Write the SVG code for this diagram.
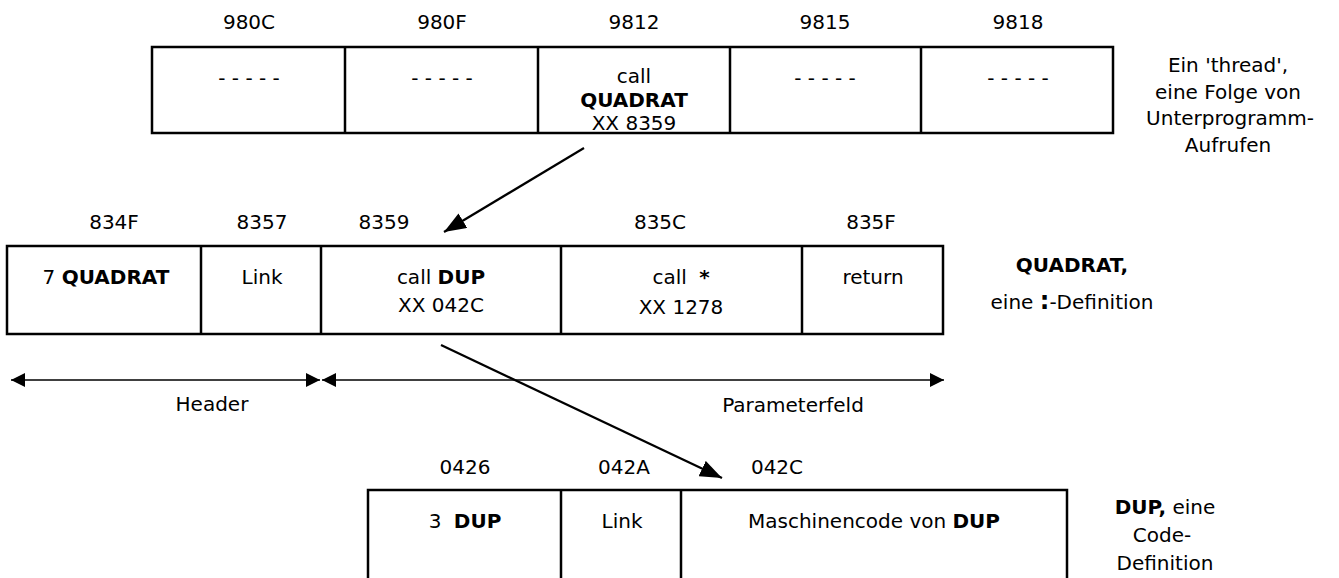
<svg xmlns="http://www.w3.org/2000/svg" width="1339" height="578" viewBox="0 0 1339 578">
<defs>
<style>
text{font-family:"DejaVu Sans",Verdana,"Liberation Sans",sans-serif;font-size:20px;fill:#000;text-anchor:middle}
.b{font-weight:bold}
.box{fill:#fff;stroke:#000;stroke-width:2.5}
.div{stroke:#000;stroke-width:2.5}
.arr{stroke:#000;stroke-width:2.2;fill:none}
.dim{stroke:#000;stroke-width:1.6;fill:none}
</style>
<marker id="ah" viewBox="0 0 22 17" refX="22" refY="8.5" markerWidth="22" markerHeight="17" markerUnits="userSpaceOnUse" orient="auto">
<path d="M0,0 L22,8.5 L0,17 z" fill="#000"/>
</marker>
<marker id="dh" viewBox="0 0 14 14" refX="14" refY="7" markerWidth="14" markerHeight="14" markerUnits="userSpaceOnUse" orient="auto-start-reverse">
<path d="M0,0 L14,7 L0,14 z" fill="#000"/>
</marker>
</defs>
<rect width="1339" height="578" fill="#fff"/>

<g id="thread">
<rect class="box" x="152" y="47" width="961" height="86"/>
<line class="div" x1="345" y1="47" x2="345" y2="133"/>
<line class="div" x1="538" y1="47" x2="538" y2="133"/>
<line class="div" x1="730" y1="47" x2="730" y2="133"/>
<line class="div" x1="921" y1="47" x2="921" y2="133"/>
<text x="249" y="29">980C</text>
<text x="442" y="29">980F</text>
<text x="634" y="29">9812</text>
<text x="825" y="29">9815</text>
<text x="1018" y="29">9818</text>
<text x="249" y="85">- - - - -</text>
<text x="442" y="85">- - - - -</text>
<text x="634" y="83">call</text>
<text x="634" y="107" class="b">QUADRAT</text>
<text x="634" y="130">XX 8359</text>
<text x="825" y="85">- - - - -</text>
<text x="1018" y="85">- - - - -</text>
</g>
<g id="thread-label">
<text x="1228" y="72">Ein 'thread',</text>
<text x="1228" y="99">eine Folge von</text>
<text x="1230" y="125">Unterprogramm-</text>
<text x="1228" y="152">Aufrufen</text>
</g>

<g id="quadrat">
<rect class="box" x="7" y="246" width="936" height="88"/>
<line class="div" x1="201" y1="246" x2="201" y2="334"/>
<line class="div" x1="321" y1="246" x2="321" y2="334"/>
<line class="div" x1="561" y1="246" x2="561" y2="334"/>
<line class="div" x1="802" y1="246" x2="802" y2="334"/>
<text x="114" y="229">834F</text>
<text x="262" y="229">8357</text>
<text x="384" y="229">8359</text>
<text x="660" y="229">835C</text>
<text x="871" y="229">835F</text>
<text x="106" y="284">7 <tspan class="b">QUADRAT</tspan></text>
<text x="262" y="284">Link</text>
<text x="441" y="284">call <tspan class="b">DUP</tspan></text>
<text x="441" y="312">XX 042C</text>
<text x="681" y="284">call <tspan class="b" dx="6">*</tspan></text>
<text x="681" y="314">XX 1278</text>
<text x="873" y="284">return</text>
</g>
<g id="quadrat-label">
<text x="1072" y="272" class="b">QUADRAT,</text>
<text x="1072" y="309">eine <tspan class="b" font-size="24">:</tspan>-Definition</text>
</g>

<g id="dimensions">
<line class="dim" x1="11" y1="380" x2="320" y2="380" marker-start="url(#dh)" marker-end="url(#dh)"/>
<line class="dim" x1="322" y1="380" x2="944" y2="380" marker-start="url(#dh)" marker-end="url(#dh)"/>
<text x="212" y="411">Header</text>
<text x="793" y="412">Parameterfeld</text>
</g>

<g id="dup">
<rect class="box" x="368" y="490" width="699" height="100"/>
<line class="div" x1="561" y1="490" x2="561" y2="578"/>
<line class="div" x1="681" y1="490" x2="681" y2="578"/>
<text x="465" y="474">0426</text>
<text x="624" y="474">042A</text>
<text x="777" y="474">042C</text>
<text x="465" y="528">3 <tspan class="b" dx="6">DUP</tspan></text>
<text x="622" y="528">Link</text>
<text x="874" y="528">Maschinencode von <tspan class="b">DUP</tspan></text>
</g>
<g id="dup-label">
<text x="1165" y="514"><tspan class="b">DUP,</tspan> eine</text>
<text x="1162" y="542">Code-</text>
<text x="1165" y="570">Definition</text>
</g>

<g id="connectors">
<line class="arr" x1="584" y1="148" x2="444" y2="232" marker-end="url(#ah)"/>
<line class="arr" x1="441" y1="345" x2="722" y2="478" marker-end="url(#ah)"/>
</g>
</svg>
